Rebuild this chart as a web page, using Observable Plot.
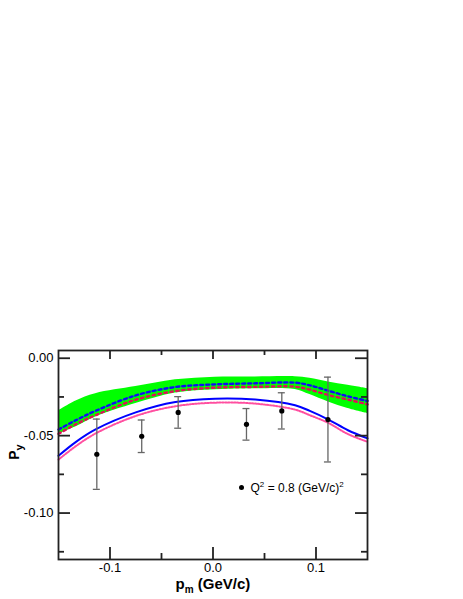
<!DOCTYPE html>
<html>
<head>
<meta charset="utf-8">
<script src="https://cdn.jsdelivr.net/npm/d3@7"></script>
<script src="https://cdn.jsdelivr.net/npm/@observablehq/plot@0.6"></script>
<style>
  html, body { margin: 0; padding: 0; background: #fff; }
  #chart { width: 463px; height: 599px; }
</style>
</head>
<body>
<div id="chart"></div>
<script>
// ---- tick values ----
const xTicks = [-0.1, 0.0, 0.1];
const xMinor = [-0.05, 0.05];
const yTicks = [0.0, -0.05, -0.10];
const yMinor = [-0.025, -0.075, -0.125];

// ---- theory curves ----
const pm         = [-0.15, -0.133, -0.114, -0.075, -0.0365, 0.002, 0.041, 0.0797, 0.094, 0.112, 0.131, 0.15];
const bandHigh   = [-0.034, -0.0276, -0.0229, -0.0183, -0.0139, -0.0122, -0.0121, -0.012, -0.013, -0.0154, -0.0175, -0.0197];
const bandLow    = [-0.049, -0.0443, -0.038, -0.0293, -0.0225, -0.0203, -0.0197, -0.0202, -0.0235, -0.0283, -0.0325, -0.0357];
const dashedBlue = [-0.046, -0.040, -0.034, -0.024, -0.0186, -0.0169, -0.0162, -0.0158, -0.0175, -0.021, -0.0246, -0.0276];
const dottedRed  = [-0.0488, -0.0426, -0.0368, -0.0268, -0.0212, -0.019, -0.0185, -0.0184, -0.0203, -0.0238, -0.0267, -0.0298];
const solidBlue  = [-0.063, -0.054, -0.046, -0.035, -0.0283, -0.0261, -0.0267, -0.0304, -0.034, -0.0396, -0.0465, -0.0518];
const dottedPink = [-0.0655, -0.0567, -0.0486, -0.0373, -0.031, -0.0287, -0.0293, -0.0332, -0.0368, -0.0418, -0.049, -0.054];

// ---- measured points ----
const dataX   = [-0.1128, -0.0692, -0.0338, 0.0325, 0.0668, 0.1116];
const dataY   = [-0.062, -0.0504, -0.035, -0.0427, -0.034, -0.0396];
const dataErr = [0.0227, 0.0105, 0.0102, 0.0102, 0.0117, 0.0274];

const curves = pm.map((x, i) => ({
  x, hi: bandHigh[i], lo: bandLow[i], bd: dashedBlue[i], rd: dottedRed[i], bs: solidBlue[i], pk: dottedPink[i]
}));
const points = dataX.map((x, i) => ({x, y: dataY[i], e: dataErr[i]}));

const W = 463, H = 599;
const mL = 58, mR = 96, mT = 350, mB = 40;
const fw = W - mL - mR, fh = H - mT - mB;
const ink = "#222";
const curve = "catmull-rom";

const svg = Plot.plot({
  width: W, height: H,
  marginLeft: mL, marginRight: mR, marginTop: mT, marginBottom: mB,
  style: {fontFamily: "'Liberation Sans', Arial, Helvetica, sans-serif", background: "#fff"},
  x: {domain: [-0.15, 0.15]},
  y: {domain: [-0.13, 0.005]},
  marks: [
    Plot.areaY(curves, {x: "x", y1: "lo", y2: "hi", fill: "#00ff00", curve}),
    Plot.lineY(curves, {x: "x", y: "rd", stroke: "#e0105a", strokeWidth: 2.4, strokeDasharray: "2.5,3.5", curve}),
    Plot.lineY(curves, {x: "x", y: "bd", stroke: "#1010f0", strokeWidth: 2.4, strokeDasharray: "3,3", curve}),
    Plot.lineY(curves, {x: "x", y: "pk", stroke: "#ff4fa0", strokeWidth: 2, strokeDasharray: "1.5,1.5", curve}),
    Plot.lineY(curves, {x: "x", y: "bs", stroke: "#0000ff", strokeWidth: 2, curve}),
    // error bars
    Plot.ruleX(points, {x: "x", y1: d => d.y - d.e, y2: d => d.y + d.e, stroke: "#666", strokeWidth: 1.3}),
    Plot.ruleY(points, {y: d => d.y + d.e, x1: "x", x2: "x", insetLeft: -3.5, insetRight: -3.5, stroke: "#666", strokeWidth: 1.3}),
    Plot.ruleY(points, {y: d => d.y - d.e, x1: "x", x2: "x", insetLeft: -3.5, insetRight: -3.5, stroke: "#666", strokeWidth: 1.3}),
    Plot.dot(points, {x: "x", y: "y", r: 2.6, fill: "#000"}),
    // inward ticks
    Plot.tickY(yTicks, {y: d => d, insetRight: fw - 12, stroke: ink, strokeWidth: 1.8}),
    Plot.tickY(yTicks, {y: d => d, insetLeft: fw - 12, stroke: ink, strokeWidth: 1.8}),
    Plot.tickY(yMinor, {y: d => d, insetRight: fw - 6, stroke: ink, strokeWidth: 1.8}),
    Plot.tickY(yMinor, {y: d => d, insetLeft: fw - 6, stroke: ink, strokeWidth: 1.8}),
    Plot.tickX(xTicks, {x: d => d, insetTop: fh - 12, stroke: ink, strokeWidth: 1.8}),
    Plot.tickX(xTicks, {x: d => d, insetBottom: fh - 9, stroke: ink, strokeWidth: 1.8}),
    Plot.tickX(xMinor, {x: d => d, insetTop: fh - 6, stroke: ink, strokeWidth: 1.8}),
    Plot.tickX(xMinor, {x: d => d, insetBottom: fh - 5, stroke: ink, strokeWidth: 1.8}),
    Plot.frame({stroke: ink, strokeWidth: 1.8}),
    // tick labels
    Plot.axisX(xTicks, {tickSize: 0, tickPadding: 3, fontSize: 13, label: null, tickFormat: d => d.toFixed(1), fill: "#000"}),
    Plot.axisY(yTicks, {tickSize: 0, tickPadding: 5, fontSize: 13, label: null, tickFormat: d => d.toFixed(2), fill: "#000"})
  ]
});

const s = d3.select(svg);
const fam = "'Liberation Sans', Arial, Helvetica, sans-serif";

// x-axis title
const xt = s.append("text").attr("x", 213).attr("y", 589).attr("text-anchor", "middle")
  .attr("font-family", fam).attr("font-weight", "bold").attr("font-size", 15).attr("fill", "#000");
xt.append("tspan").text("p");
xt.append("tspan").attr("font-size", 10).attr("dy", 4).text("m");
xt.append("tspan").attr("dy", -4).text(" (GeV/c)");

// y-axis title
const yt = s.append("text").attr("transform", "translate(19,452) rotate(-90)").attr("text-anchor", "middle")
  .attr("font-family", fam).attr("font-weight", "bold").attr("font-size", 14).attr("fill", "#000");
yt.append("tspan").text("P");
yt.append("tspan").attr("font-size", 11).attr("dy", 4).text("y");

// legend
s.append("circle").attr("cx", 241.5).attr("cy", 487.5).attr("r", 2.5).attr("fill", "#000");
const lg = s.append("text").attr("x", 250.5).attr("y", 491.5).attr("text-anchor", "start")
  .attr("font-family", fam).attr("font-size", 12).attr("fill", "#000");
lg.append("tspan").text("Q");
lg.append("tspan").attr("font-size", 8).attr("dy", -5).text("2");
lg.append("tspan").attr("dy", 5).text(" = 0.8 (GeV/c)");
lg.append("tspan").attr("font-size", 8).attr("dy", -5).text("2");

document.getElementById("chart").appendChild(svg);
</script>
</body>
</html>
